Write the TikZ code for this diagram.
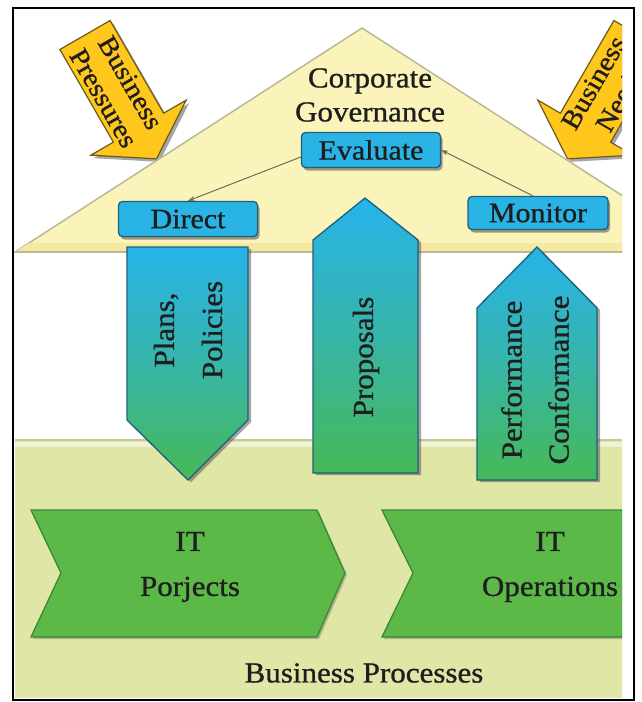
\documentclass[tikz,border=0pt]{standalone}
\usepackage{fontspec}
\setmainfont[FakeStretch=1.07,FakeBold=0.9]{Liberation Serif}
\usetikzlibrary{arrows.meta,shadows}
\definecolor{roofc}{HTML}{FBF4BA}
\definecolor{roofedge}{HTML}{B9BA94}
\definecolor{roofband}{HTML}{F5E9A2}
\definecolor{platc}{HTML}{E0E6A6}
\definecolor{platedge}{HTML}{C4C89C}
\definecolor{boxblue}{HTML}{2AB4E6}
\definecolor{boxedge}{HTML}{1E5F7C}
\definecolor{topblue}{HTML}{27B3EA}
\definecolor{midteal}{HTML}{37B5A8}
\definecolor{botgreen}{HTML}{46B957}
\definecolor{chevc}{HTML}{5CB947}
\definecolor{chevedge}{HTML}{358A33}
\definecolor{goldc}{HTML}{FFC61C}
\definecolor{goldedge}{HTML}{6B5B1A}
\definecolor{txt}{HTML}{1E1E1E}
\definecolor{connc}{HTML}{6E6E5A}
\begin{document}
\begin{tikzpicture}[x=1pt,y=-1pt,
  bigtxt/.style={text=txt,font=\fontsize{29}{33}\selectfont,align=center,inner sep=0pt},
  bluebox/.style={draw=boxedge,fill=boxblue,rounded corners=4pt,line width=1.3pt,
    inner sep=0pt,text=txt,font=\fontsize{28}{30}\selectfont,
    drop shadow={shadow xshift=2pt,shadow yshift=-3pt,fill=black!70,opacity=0.55}},
  vshape/.style={draw=boxedge,line width=1.3pt,top color=topblue,bottom color=botgreen,middle color=midteal,
    drop shadow={shadow xshift=3pt,shadow yshift=-2pt,fill=black!70,opacity=0.5}},
  chev/.style={draw=chevedge,fill=chevc,line width=1.3pt,
    drop shadow={shadow xshift=2pt,shadow yshift=-2pt,fill=black!60,opacity=0.4}},
  gold/.style={draw=goldedge,fill=goldc,line width=1.2pt,
    drop shadow={shadow xshift=3pt,shadow yshift=-3pt,fill=black!70,opacity=0.5}},
  conn/.style={draw=connc,line width=1pt,-{Stealth[length=7pt,width=5pt]}}]
\useasboundingbox (0,0) rectangle (641,702);
\fill[white] (0,0) rectangle (641,702);
\begin{scope}
\clip (13,8) rectangle (622,699);
% business pressure arrows
\begin{scope}[shift={(85,35)},rotate=-60]
  \path[gold] (0,-29) -- (107,-29) -- (107,-55) -- (143,0) -- (107,55) -- (107,29) -- (0,29) -- cycle;
  \node[bigtxt,rotate=-60,font=\fontsize{27}{31}\selectfont] (press) at (64,0) {Business\\Pressures};
\end{scope}
\begin{scope}[shift={(639,35)},rotate=-120]
  \path[gold] (0,-29) -- (107,-29) -- (107,-55) -- (143,0) -- (107,55) -- (107,29) -- (0,29) -- cycle;
  \node[bigtxt,rotate=60,font=\fontsize{27}{31}\selectfont] (needs) at (64,0) {Business\\Needs};
\end{scope}
% roof
\path[fill=roofc,draw=roofedge,line width=1.5pt] (15,252) -- (362,28) -- (640,207) -- (640,252) -- cycle;
\begin{scope}
  \clip (15,252) -- (362,28) -- (640,207) -- (640,252) -- cycle;
  \fill[roofband] (15,243) rectangle (640,251);
\end{scope}
\draw[roofedge,line width=2.5pt] (15,252) -- (640,252);
\node[bigtxt,font=\fontsize{29}{34}\selectfont] (corp) at (370,95) {Corporate\\Governance};
% platform
\fill[platc] (15,440) rectangle (623,698);
\draw[platedge,line width=1.5pt] (15,440) -- (623,440);
\fill[white!50!platc] (15,442) rectangle (623,447);
% blue boxes
\node[bluebox,minimum width=139pt,minimum height=35pt] (direct) at (188,219) {Direct};
\node[bluebox,minimum width=139pt,minimum height=35pt] (evaluate) at (371,150) {Evaluate};
\node[bluebox,minimum width=140pt,minimum height=33pt] (monitor) at (538,213) {Monitor};
\draw[conn] ([yshift=-7pt]evaluate.west) -- (direct.north);
\draw[conn] ([xshift=-5pt]monitor.north) -- (evaluate.east);
% vertical arrows
\path[vshape] (127,247) -- (248,247) -- (248,420) -- (188,480) -- (127,420) -- cycle;
\node[bigtxt,rotate=90,font=\fontsize{29}{48}\selectfont] (plans) at (188,330) {Plans,\\Policies};
\path[vshape] (313,240) -- (365,198) -- (418,240) -- (418,473) -- (313,473) -- cycle;
\node[bigtxt,rotate=90] (proposals) at (366,357) {Proposals};
\path[vshape] (477,308) -- (537,247) -- (597,308) -- (597,480) -- (477,480) -- cycle;
\node[bigtxt,rotate=90,font=\fontsize{29}{47}\selectfont] (perf) at (535,380) {Performance\\Conformance};
% chevrons
\path[chev] (31,510) -- (317,510) -- (345,573) -- (317,637) -- (31,637) -- (61,573) -- cycle;
\node[bigtxt,font=\fontsize{29}{45}\selectfont] (itp) at (190,567) {IT\\Porjects};
\path[chev] (382,510) -- (660,510) -- (660,637) -- (382,637) -- (413,573) -- cycle;
\node[bigtxt,font=\fontsize{29}{45}\selectfont] (ito) at (550,567) {IT\\Operations};
\node[bigtxt] (bp) at (364,673) {Business Processes};
\end{scope}
\draw[black,line width=1.3pt] (13,8) rectangle (634,700);
\end{tikzpicture}
\end{document}
